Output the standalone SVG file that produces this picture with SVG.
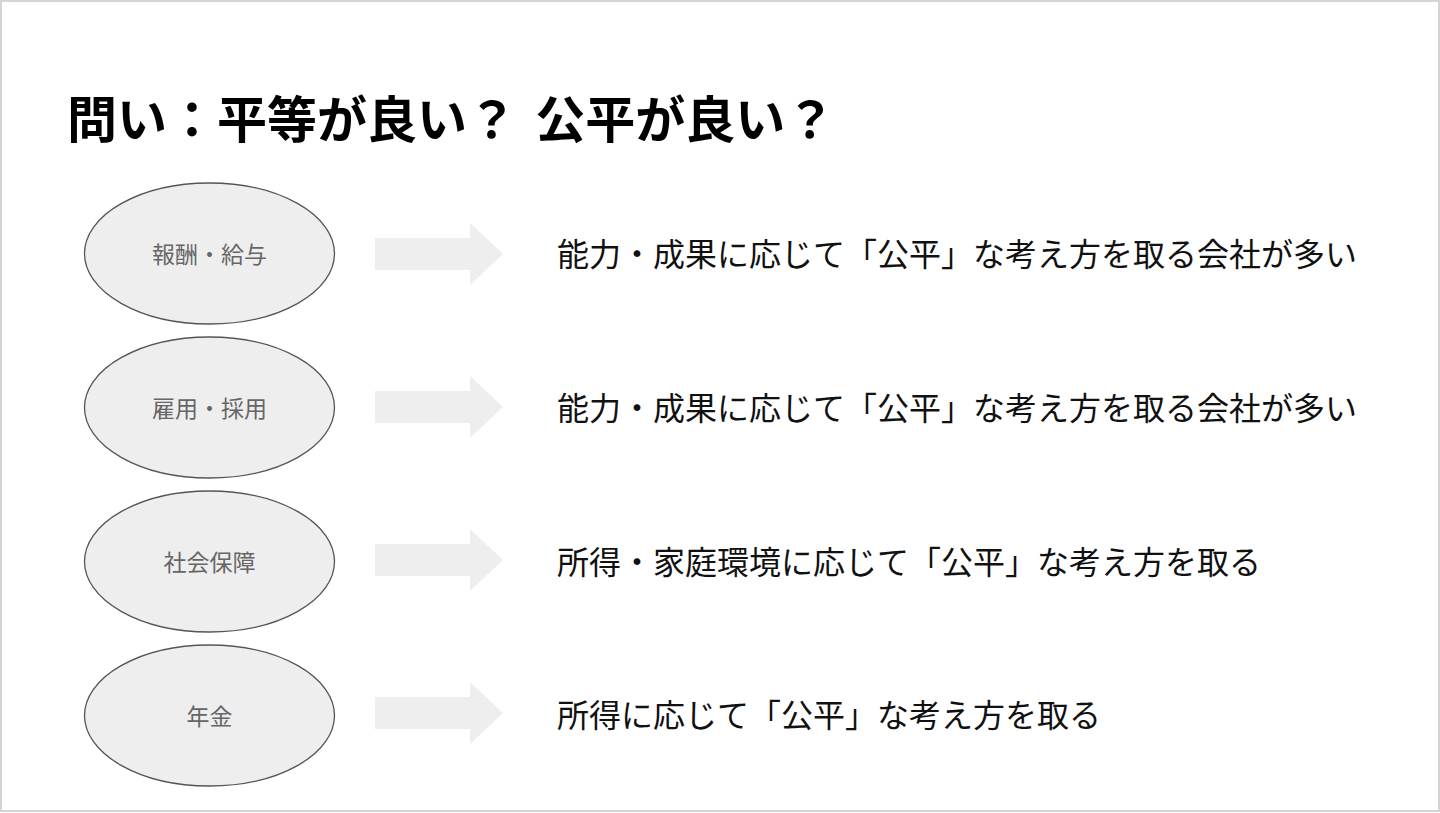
<svg xmlns="http://www.w3.org/2000/svg" width="1440" height="813" viewBox="0 0 1440 813">
<style>
.t{font-family:"Noto Sans CJK JP","Noto Sans CJK SC",sans-serif;}
.title{font-size:50px;font-weight:bold;fill:#000;}
.desc{font-size:32px;fill:#111;dominant-baseline:central;}
.lab{font-size:23px;fill:#666;text-anchor:middle;dominant-baseline:central;}
.node ellipse{fill:#eeeeee;stroke:#555;stroke-width:1.3;}
.arr{fill:#eeeeee;}
</style>
<defs>
<path id="arrow" d="M375,-16 H470 V-31 L503,0 L470,31 V16 H375 Z"/>
</defs>
<rect x="1" y="1" width="1438" height="810" fill="#fff" stroke="#d4d4d4" stroke-width="2"/>
<text class="t title" x="67" y="116" dominant-baseline="central" xml:space="preserve">問い：平等が良い？ <tspan dx="7">公平が良い？</tspan></text>

<g id="node1" class="node"><ellipse cx="209.5" cy="253.5" rx="125" ry="70.5"/><text class="t lab" x="209.5" y="252.5">報酬・給与</text></g>
<g id="node2" class="node"><ellipse cx="209.5" cy="407.5" rx="125" ry="70.5"/><text class="t lab" x="209.5" y="406.5">雇用・採用</text></g>
<g id="node3" class="node"><ellipse cx="209.5" cy="561.5" rx="125" ry="70.5"/><text class="t lab" x="209.5" y="560.5">社会保障</text></g>
<g id="node4" class="node"><ellipse cx="209.5" cy="715.5" rx="125" ry="70.5"/><text class="t lab" x="209.5" y="714.5">年金</text></g>

<g id="connectors" class="arr">
<use href="#arrow" y="254"/>
<use href="#arrow" y="407"/>
<use href="#arrow" y="560"/>
<use href="#arrow" y="713"/>
</g>

<g id="desc1"><text class="t desc" x="557" y="252">能力・成果に応じて「公平」な考え方を取る会社が多い</text></g>
<g id="desc2"><text class="t desc" x="557" y="406">能力・成果に応じて「公平」な考え方を取る会社が多い</text></g>
<g id="desc3"><text class="t desc" x="557" y="560">所得・家庭環境に応じて「公平」な考え方を取る</text></g>
<g id="desc4"><text class="t desc" x="557" y="713">所得に応じて「公平」な考え方を取る</text></g>
</svg>
